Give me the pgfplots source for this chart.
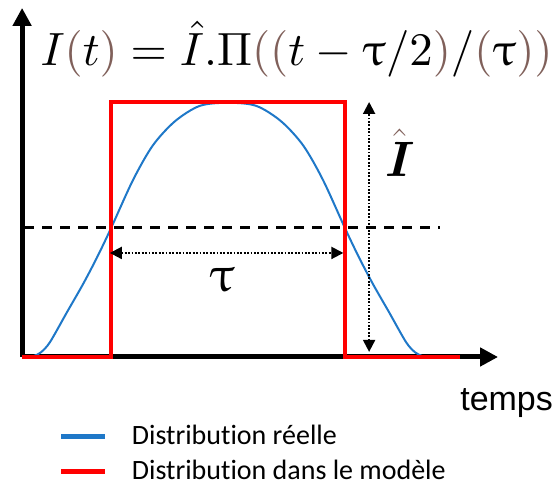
\documentclass[border=0pt]{standalone}
\usepackage{pgfplots}
\pgfplotsset{compat=1.18}
\usetikzlibrary{arrows.meta}
\usepackage{fontspec}
\setmainfont{Carlito}[Ligatures={NoCommon,NoContextual}]
\newfontfamily\arial{Liberation Sans}
\usepackage{upgreek}
\usepackage{bm}
\definecolor{pulseblue}{HTML}{1F78C8}
\definecolor{brn}{HTML}{80605A}

\begin{document}
\begin{tikzpicture}
\begin{axis}[
  x=117pt, y=127.5pt,
  xmin=-0.38, xmax=1.654,
  ymin=0, ymax=1.369,
  axis lines=left,
  axis line style={line width=2.5pt, -{Triangle[length=9pt,width=9pt]}},
  ticks=none,
  clip=false,
  legend style={at={(axis cs:-0.25,-0.233)}, anchor=north west, draw=none, fill=none,
    font=\fontsize{14}{17}\selectfont, row sep=2.5pt,
    /tikz/every odd column/.append style={column sep=10pt}},
  legend cell align=left,
  legend image code/.code={\draw[#1, line width=2.5pt] (0pt,0pt) -- (22pt,0pt);},
]
%% real pulse
\addplot[pulseblue, line width=1pt, smooth]
  coordinates {
    (-0.36,0) (-0.33,0.004) (-0.30,0.018) (-0.261,0.058) (-0.188,0.176) (-0.120,0.285)
    (-0.060,0.39) (0,0.505) (0.094,0.694) (0.179,0.830) (0.274,0.925)
    (0.38,0.985) (0.5,0.997) (0.62,0.985) (0.726,0.925) (0.821,0.830)
    (0.906,0.694) (1.0,0.505) (1.06,0.39) (1.12,0.285) (1.188,0.176)
    (1.261,0.058) (1.30,0.018) (1.33,0.004) (1.36,0)
  };
\addlegendentry{Distribution réelle}
%% model: rectangle
\addplot[red, line width=2.4pt, line join=miter]
  coordinates {(-0.38,0) (0,0) (0,1) (1,1) (1,0) (1.49,0)};
\addlegendentry{Distribution dans le modèle}

%% half height and widths
\addplot[black, line width=1.5pt, dash pattern=on 5pt off 4pt, forget plot]
  coordinates {(-0.37,0.506) (1.406,0.506)};
\addplot[black, line width=1pt, dash pattern=on 0.9pt off 0.8pt,
  {Triangle[length=6pt,width=6pt]}-{Triangle[length=6pt,width=6pt]}, forget plot]
  coordinates {(-0.005,0.408) (0.993,0.408)};
\addplot[black, line width=1pt, dash pattern=on 0.9pt off 0.8pt,
  {Triangle[length=6pt,width=6pt]}-{Triangle[length=6pt,width=6pt]}, forget plot]
  coordinates {(1.103,0.02) (1.103,1.0)};

\node at (axis cs:0.474,0.30) {\fontsize{25}{29}\selectfont$\uptau$};
\node at (axis cs:1.235,0.80) {\fontsize{24}{28}\selectfont$\color{brn}\hat{\color{black}\bm{I}}$};
\node[anchor=base west, inner sep=0pt] at (axis cs:-0.303,1.145)
  {\resizebox{256pt}{!}{$I{\color{brn}(}t{\color{brn})}=\hat{I}.\Pi{\color{brn}((}t-\uptau/2{\color{brn})}/{\color{brn}(}\uptau{\color{brn}))}$}};
\node[anchor=base west, inner sep=0pt] at (axis cs:1.491,-0.208)
  {\arial\fontsize{17}{20}\selectfont temps};

\coordinate (bbA) at (axis cs:-0.4744,-0.5059);
\coordinate (bbB) at (axis cs:1.9017,1.4);
\end{axis}
\pgfresetboundingbox
\path[use as bounding box] (bbA) rectangle (bbB);
\end{tikzpicture}
\end{document}
